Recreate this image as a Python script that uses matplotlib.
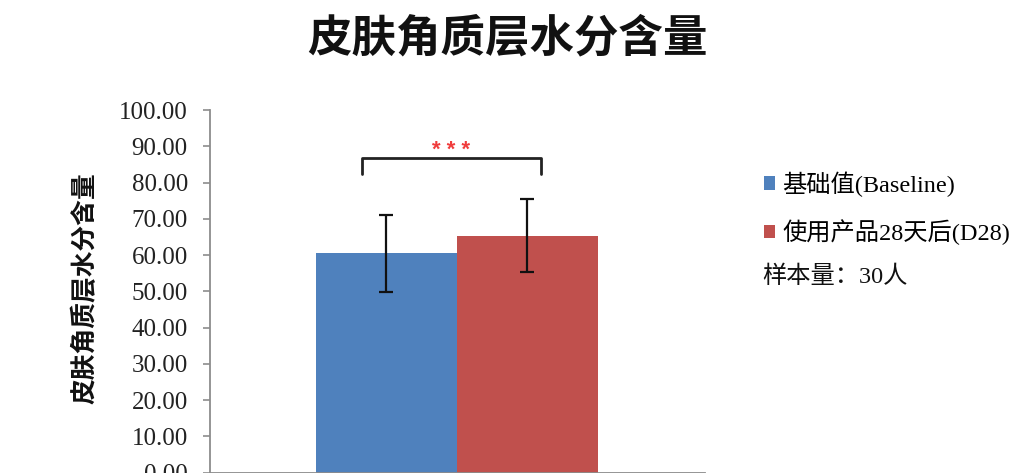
import matplotlib
matplotlib.use("Agg")
import matplotlib.pyplot as plt
from matplotlib.patches import Patch

# ---- data ----
title = "皮肤角质层水分含量"
ylabel = "皮肤角质层水分含量"
series_names = ["基础值(Baseline)", "使用产品28天后(D28)"]
series_values = [60.5, 65.4]
series_errors = [10.6, 10.0]
series_colors = ["#4F81BD", "#C0504D"]
yticks = [0, 10, 20, 30, 40, 50, 60, 70, 80, 90, 100]
ytick_labels = [f"{v:.2f}" for v in yticks]
sig_label = "* * *"
sample_note = "样本量：30人"

serif_cjk = ["Liberation Serif", "Noto Sans CJK SC", "DejaVu Sans"]
sans_cjk = ["Noto Sans CJK SC", "DejaVu Sans"]

fig = plt.figure(figsize=(10.15, 4.73), dpi=100)
ax = fig.add_axes([0.2069, 0.001, 0.4877, 0.766])

x = list(range(len(series_values)))
bars = ax.bar(x, series_values, width=1.0, color=series_colors, align="center",
              edgecolor="none", zorder=2)
ax.errorbar(x, series_values, yerr=series_errors, fmt="none", ecolor="#111111",
            elinewidth=1.6, capsize=5, capthick=1.6, zorder=3)

ax.set_xlim(-1.25, 2.26)
ax.set_ylim(0, 100)
ax.set_yticks(yticks)
ax.set_yticklabels(ytick_labels, fontfamily=serif_cjk, fontsize=18, color="#222222")
ax.set_xticks([])
for s in ["top", "right"]:
    ax.spines[s].set_visible(False)
for s in ["left", "bottom"]:
    ax.spines[s].set_color("#8C8C8C")
    ax.spines[s].set_linewidth(1.3)
ax.tick_params(axis="y", direction="out", length=5, width=1.2, color="#8C8C8C", pad=11)

# significance bracket
bx0, bx1 = -0.175, 1.10
by_top, by_leg = 86.7, 82.3
ax.plot([bx0, bx0, bx1, bx1], [by_leg, by_top, by_top, by_leg], color="#222222",
        lw=2.0, solid_joinstyle="round", solid_capstyle="round", zorder=3, clip_on=False)
ax.text((bx0 + bx1) / 2, by_top - 0.6, sig_label, color="#F03C3C", fontsize=16,
        fontweight="bold", ha="center", va="bottom", fontfamily="Liberation Sans")

fig.text(0.5, 0.918, title, fontfamily=sans_cjk, fontsize=32, fontweight="bold",
         ha="center", va="center", color="#111111")
fig.text(0.084, 0.39, ylabel, fontfamily=sans_cjk, fontsize=18.5, fontweight="bold",
         rotation=90, ha="center", va="center", color="#111111")

handles = [Patch(facecolor=c, edgecolor="none") for c in series_colors]
leg = fig.legend(handles, series_names, loc="upper left", bbox_to_anchor=(0.753, 0.638),
                 frameon=False, prop={"family": serif_cjk, "size": 17.5},
                 handlelength=0.45, handleheight=0.45, handletextpad=0.3,
                 labelspacing=0.92, borderaxespad=0, borderpad=0)
fig.text(0.751, 0.414, sample_note, fontfamily=serif_cjk, fontsize=17.5,
         ha="left", va="center", color="#111111")

fig.savefig("out.png", dpi=100)
